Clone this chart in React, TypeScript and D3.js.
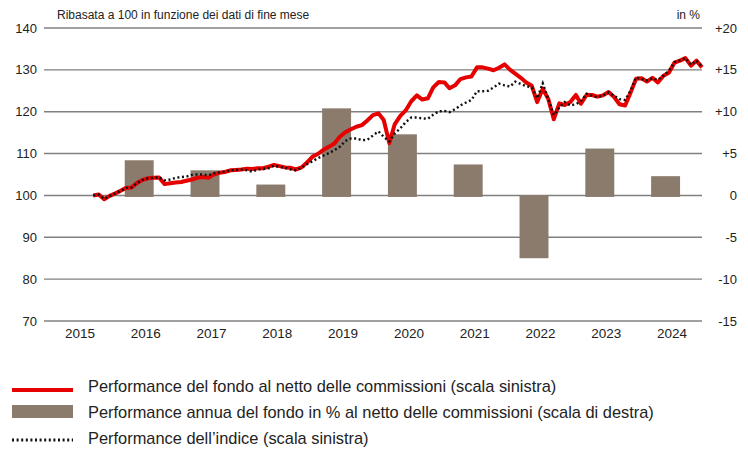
import React from "react";
import * as d3 from "d3";

const years = ["2015", "2016", "2017", "2018", "2019", "2020", "2021", "2022", "2023", "2024"];
const annualYears = ["2016", "2017", "2018", "2019", "2020", "2021", "2022", "2023", "2024"];
const annualReturns = [4.2, 3.0, 1.3, 10.4, 7.3, 3.7, -7.5, 5.6, 2.3];

const startMonth = "2015-09"; // first month-end point
const fundValues = [
  100.0, 100.2, 99.1, 99.9, 100.5, 101.1, 101.8, 101.9, 103.0, 103.7, 104.1, 104.2, 104.3, 102.7, 102.9, 103.1,
  103.2, 103.5, 103.8, 104.2, 104.4, 104.2, 105.0, 105.4, 105.6, 106.0, 106.1, 106.2, 106.4, 106.3, 106.5, 106.5,
  106.9, 107.3, 107.0, 106.7, 106.6, 106.2, 106.7, 107.9, 109.3, 109.9, 110.9, 111.6, 112.4, 114.0, 115.1, 115.8,
  116.4, 116.8, 117.9, 119.2, 119.6, 118.0, 112.5, 117.0, 119.0, 120.3, 122.5, 123.9, 122.9, 123.2, 125.8, 127.1,
  127.0, 125.6, 126.3, 127.8, 128.2, 128.4, 130.6, 130.6, 130.3, 129.9, 130.5, 131.3, 130.0, 129.1, 128.1, 127.0,
  126.2, 122.3, 125.5, 123.0, 118.2, 122.0, 121.6, 122.3, 124.0, 121.9, 124.0, 124.0, 123.6, 123.9, 124.7, 123.5,
  121.8, 121.5, 124.5, 127.9, 128.0, 127.2, 128.1, 127.0, 128.6, 129.3, 131.7, 132.2, 132.8, 131.0, 132.2, 130.6,
];
const indexValues = [
  100.0, 100.2, 99.2, 99.9, 100.5, 101.1, 101.8, 101.9, 103.0, 103.7, 104.1, 104.2, 104.3, 103.6, 103.8, 104.2,
  104.4, 104.5, 104.9, 105.0, 105.0, 104.8, 105.3, 105.5, 105.7, 106.0, 106.1, 106.2, 106.0, 105.7, 106.2, 106.3,
  106.5, 107.1, 106.8, 106.6, 106.2, 106.0, 106.6, 107.5, 108.2, 108.9, 109.5, 110.1, 110.8, 111.6, 113.0, 113.6,
  113.6, 113.2, 113.3, 114.3, 115.3, 114.0, 112.9, 114.8, 116.0, 117.5, 118.6, 118.6, 118.4, 118.3, 119.3, 120.1,
  120.2, 119.9, 120.6, 121.5, 122.2, 122.8, 124.9, 124.9, 125.0, 125.8, 126.7, 126.3, 126.0, 127.2, 126.6, 126.1,
  125.8, 123.2, 126.8, 123.0, 119.2, 121.0, 122.3, 121.5, 121.8, 122.5, 124.3, 123.8, 123.4, 123.9, 124.6, 123.8,
  123.0, 122.8, 125.0, 128.2, 127.8, 127.5, 128.0, 127.6, 128.6, 129.8, 131.8, 132.3, 132.8, 131.2, 132.2, 130.8,
];

const leftTicks = [70, 80, 90, 100, 110, 120, 130, 140];
const rightTickLabels = ["-15", "-10", "-5", "0", "+5", "+10", "+15", "+20"];
const rightTicks = [-15, -10, -5, 0, 5, 10, 15, 20];

const legendLabels = [
  "Performance del fondo al netto delle commissioni (scala sinistra)",
  "Performance annua del fondo in % al netto delle commissioni (scala di destra)",
  "Performance dell\u2019indice (scala sinistra)",
];
const subtitle = "Ribasata a 100 in funzione dei dati di fine mese";
const unitLabel = "in %";

const W = 748;
const H = 452;
const plotL = 44;
const plotR = 702;
const plotT = 28;
const plotB = 321;

const RED = "#e60000";
const BROWN = "#8a7b6d";
const GRID = "#808080";
const FONT = "'Liberation Sans', Arial, sans-serif";

export default function App() {
  const yL = d3.scaleLinear().domain([70, 140]).range([plotB, plotT]);
  const yR = d3.scaleLinear().domain([-15, 20]).range([plotB, plotT]);
  const xT = d3
    .scaleTime()
    .domain([new Date(2015, 0, 1), new Date(2025, 0, 1)])
    .range([plotL, plotR]);
  const xB = d3.scaleBand<string>().domain(years).range([plotL, plotR]);
  const barW = xB.bandwidth() * 0.44;

  const [sy, sm] = startMonth.split("-").map(Number);
  // month-end points: plotted at the first day of the following month
  const dateAt = (i: number) => new Date(sy, sm + i, 1);

  const line = d3
    .line<number>()
    .x((_, i) => xT(dateAt(i)))
    .y((d) => yL(d))
    .curve(d3.curveLinear);

  return (
    <svg width={W} height={H} style={{ display: "block", position: "absolute", left: 0, top: 0 }}>
      <rect width={W} height={H} fill="#fff" />
      {/* gridlines */}
      {leftTicks.map((t) => (
        <line key={t} x1={plotL} x2={plotR} y1={yL(t)} y2={yL(t)} stroke={GRID} strokeWidth={1.4} />
      ))}
      {/* left tick labels */}
      {leftTicks.map((t) => (
        <text key={"l" + t} x={37} y={yL(t)} dy="0.35em" textAnchor="end" fontFamily={FONT} fontSize={13} fill="#222">
          {t}
        </text>
      ))}
      {/* right tick labels */}
      {rightTicks.map((t, i) => (
        <text key={"r" + t} x={737} y={yR(t)} dy="0.35em" textAnchor="end" fontFamily={FONT} fontSize={13} fill="#222">
          {rightTickLabels[i]}
        </text>
      ))}
      {/* year labels */}
      {years.map((y) => (
        <text
          key={"y" + y}
          x={(xB(y) as number) + xB.bandwidth() / 2 + 3}
          y={333}
          dy="0.35em"
          textAnchor="middle"
          fontFamily={FONT}
          fontSize={13.5}
          fill="#222"
        >
          {y}
        </text>
      ))}
      <text x={57} y={19} fontFamily={FONT} fontSize={12} fill="#222">
        {subtitle}
      </text>
      <text x={700} y={19} textAnchor="end" fontFamily={FONT} fontSize={12} fill="#222">
        {unitLabel}
      </text>
      {/* bars */}
      {annualYears.map((y, i) => {
        const v = annualReturns[i];
        const cx = (xB(y) as number) + xB.bandwidth() / 2 - 3.5;
        const y0 = yR(0);
        const y1 = yR(v);
        return (
          <rect
            key={"b" + y}
            x={cx - barW / 2}
            y={Math.min(y0, y1)}
            width={barW}
            height={Math.abs(y1 - y0) + (v > 0 ? 1.5 : 0)}
            fill={BROWN}
          />
        );
      })}
      {/* fund line */}
      <path d={line(fundValues) || ""} fill="none" stroke={RED} strokeWidth={4} strokeLinejoin="round" />
      {/* index line */}
      <path
        d={line(indexValues) || ""}
        fill="none"
        stroke="#111"
        strokeWidth={2.4}
        strokeDasharray="2 2.6"
      />
      {/* legend */}
      <line x1={12} x2={73} y1={390} y2={390} stroke={RED} strokeWidth={4} />
      <text x={88} y={386} dy="0.35em" fontFamily={FONT} fontSize={16.4} fill="#222">
        {legendLabels[0]}
      </text>
      <rect x={12} y={405} width={61} height={13} fill={BROWN} />
      <text x={88} y={412} dy="0.35em" fontFamily={FONT} fontSize={16.4} fill="#222">
        {legendLabels[1]}
      </text>
      <line x1={12} x2={73} y1={440} y2={440} stroke="#111" strokeWidth={3} strokeDasharray="2 2.6" />
      <text x={88} y={438} dy="0.35em" fontFamily={FONT} fontSize={16.4} fill="#222">
        {legendLabels[2]}
      </text>
    </svg>
  );
}
